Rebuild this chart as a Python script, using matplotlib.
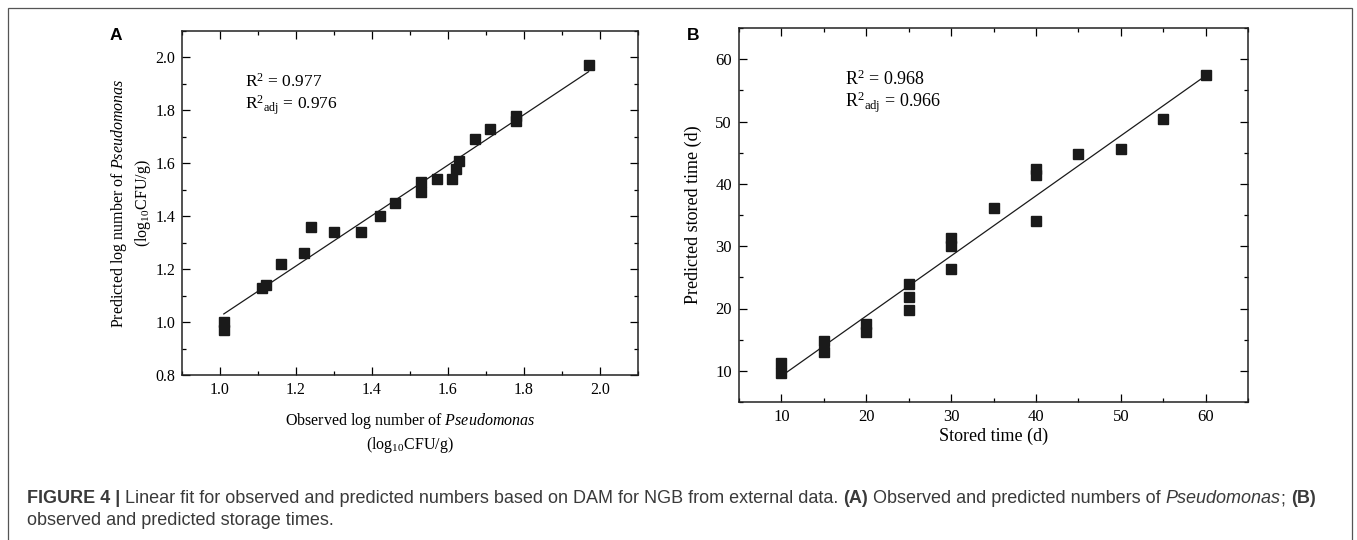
import matplotlib
matplotlib.use("Agg")
import matplotlib.pyplot as plt
import numpy as np
from matplotlib.patches import Rectangle
from matplotlib.ticker import MultipleLocator
from matplotlib.transforms import IdentityTransform

plt.rcParams['font.family'] = ['Liberation Serif', 'DejaVu Serif']
plt.rcParams['mathtext.fontset'] = 'custom'
plt.rcParams['mathtext.rm'] = 'Liberation Serif'
plt.rcParams['mathtext.it'] = 'Liberation Serif:italic'
plt.rcParams['mathtext.bf'] = 'Liberation Serif:bold'

# panel A: observed vs predicted log number of Pseudomonas
obs_a = [1.01, 1.01, 1.11, 1.12, 1.16, 1.22, 1.24, 1.30, 1.37, 1.42, 1.46,
         1.53, 1.53, 1.57, 1.61, 1.62, 1.63, 1.67, 1.71, 1.78, 1.78, 1.97]
pred_a = [0.97, 1.00, 1.13, 1.14, 1.22, 1.26, 1.36, 1.34, 1.34, 1.40, 1.45,
          1.53, 1.49, 1.54, 1.54, 1.58, 1.61, 1.69, 1.73, 1.76, 1.78, 1.97]
r2_a = ['0.977', '0.976']

# panel B: stored time vs predicted stored time (d)
stored_b = [10, 10, 15, 15, 20, 20, 25, 25, 25, 30, 30, 30, 35, 40, 40, 40,
            45, 50, 55, 60]
pred_b = [11.3, 9.7, 14.8, 13.0, 17.5, 16.3, 24.0, 21.8, 19.7, 31.3, 30.1,
          26.3, 36.2, 42.3, 41.4, 34.1, 44.8, 45.6, 50.4, 57.4]
r2_b = ['0.968', '0.966']

W, H = 1357, 540
fig = plt.figure(figsize=(W / 100, H / 100), dpi=100)

# outer frame of the figure box
fig.add_artist(Rectangle((8 / W, -0.02), (1352 - 8) / W, 1 - 8 / H + 0.02,
                         transform=fig.transFigure, fill=False,
                         edgecolor='#555555', linewidth=0.9))

ax_a = fig.add_axes([182 / W, 1 - 375 / H, 456 / W, 344 / H])
ax_b = fig.add_axes([739 / W, 1 - 402 / H, 509 / W, 374 / H])

mk = dict(marker='s', linestyle='none', markersize=6.8, color='#1a1a1a')


def style_axis(ax, size):
    ax.tick_params(which='both', direction='in', top=True, right=True,
                   labelsize=size, width=0.9, pad=5)
    ax.tick_params(which='major', length=6)
    ax.tick_params(which='minor', length=3)
    for s in ax.spines.values():
        s.set_linewidth(1.1)
        s.set_color('#222222')


# --- A ---
ax_a.plot(obs_a, pred_a, **mk)
k, b = np.polyfit(obs_a, pred_a, 1)
xl = np.array([min(obs_a), max(obs_a)])
ax_a.plot(xl, k * xl + b, color='#1a1a1a', linewidth=0.9)
ax_a.set_xlim(0.9, 2.1)
ax_a.set_ylim(0.8, 2.1)
ax_a.xaxis.set_major_locator(MultipleLocator(0.2))
ax_a.xaxis.set_minor_locator(MultipleLocator(0.1))
ax_a.yaxis.set_major_locator(MultipleLocator(0.2))
ax_a.yaxis.set_minor_locator(MultipleLocator(0.1))
ax_a.xaxis.set_major_formatter('{x:.1f}')
ax_a.yaxis.set_major_formatter('{x:.1f}')
style_axis(ax_a, 11.5)
ax_a.set_xlabel('Observed log number of $\\mathit{Pseudomonas}$\n(log$_{10}$CFU/g)',
                fontsize=11.5, linespacing=1.3)
ax_a.set_ylabel('Predicted log number of $\\mathit{Pseudomonas}$\n(log$_{10}$CFU/g)',
                fontsize=11.5, linespacing=1.3)
ax_a.xaxis.set_label_coords(0.5, -0.105)
ax_a.yaxis.set_label_coords(-0.064, 0.5)
ax_a.text(0.138, 0.852, 'R$^{2}$ = ' + r2_a[0], transform=ax_a.transAxes,
          fontsize=12.5, va='center')
ax_a.text(0.138, 0.785, 'R$^{2}{}_{\\mathrm{adj}}$ = ' + r2_a[1],
          transform=ax_a.transAxes, fontsize=12.5, va='center')

# --- B ---
ax_b.plot(stored_b, pred_b, **mk)
k, b = np.polyfit(stored_b, pred_b, 1)
xl = np.array([min(stored_b), max(stored_b)])
ax_b.plot(xl, k * xl + b, color='#1a1a1a', linewidth=0.9)
ax_b.set_xlim(5, 65)
ax_b.set_ylim(5, 65)
ax_b.xaxis.set_major_locator(MultipleLocator(10))
ax_b.xaxis.set_minor_locator(MultipleLocator(5))
ax_b.yaxis.set_major_locator(MultipleLocator(10))
ax_b.yaxis.set_minor_locator(MultipleLocator(5))
style_axis(ax_b, 12)
ax_b.set_xlabel('Stored time (d)', fontsize=13)
ax_b.set_ylabel('Predicted stored time (d)', fontsize=13)
ax_b.xaxis.set_label_coords(0.5, -0.07)
ax_b.yaxis.set_label_coords(-0.072, 0.5)
ax_b.text(0.208, 0.864, 'R$^{2}$ = ' + r2_b[0], transform=ax_b.transAxes,
          fontsize=13, va='center')
ax_b.text(0.208, 0.800, 'R$^{2}{}_{\\mathrm{adj}}$ = ' + r2_b[1],
          transform=ax_b.transAxes, fontsize=13, va='center')

# panel letters
fig.text(110 / W, 1 - 28 / H, 'A', family='Liberation Sans', fontweight='bold',
         fontsize=12.5, va='top', ha='left')
fig.text(687 / W, 1 - 28 / H, 'B', family='Liberation Sans', fontweight='bold',
         fontsize=12.5, va='top', ha='left')

# caption with mixed styles, placed run by run
cap_size = 13
cap_color = '#3a3a3a'
renderer = fig.canvas.get_renderer()


def text_w(s, **kw):
    t = fig.text(0, 0, s, transform=IdentityTransform(), fontsize=cap_size,
                 family='Liberation Sans', **kw)
    w = t.get_window_extent(renderer).width
    t.remove()
    return w


space = text_w('x x') - text_w('xx')


def put_runs(x, y, runs):
    for s, weight, style in runs:
        if s.startswith(' '):
            x += space
            s = s.lstrip()
        t = fig.text(x, y, s, transform=IdentityTransform(), fontsize=cap_size,
                     family='Liberation Sans', fontweight=weight,
                     fontstyle=style, color=cap_color, va='baseline')
        x = t.get_window_extent(renderer).x1


put_runs(27, H - 503, [
    ('FIGURE 4 |', 'bold', 'normal'),
    (' Linear fit for observed and predicted numbers based on DAM for NGB '
     'from external data.', 'normal', 'normal'),
    (' (A)', 'bold', 'normal'),
    (' Observed and predicted numbers of', 'normal', 'normal'),
    (' Pseudomonas', 'normal', 'italic'),
    (';', 'normal', 'normal'),
    (' (B)', 'bold', 'normal'),
])
put_runs(27, H - 525, [
    ('observed and predicted storage times.', 'normal', 'normal'),
])

fig.savefig('out.png', dpi=100)
